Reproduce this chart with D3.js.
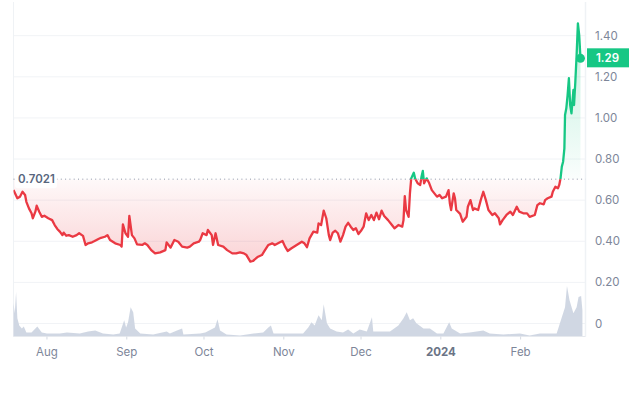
<!DOCTYPE html>
<html>
<head>
<meta charset="utf-8">
<script src="https://cdn.jsdelivr.net/npm/d3@7"></script>
<style>
  html, body { margin: 0; padding: 0; background: #fff; }
  svg { display: block; font-family: Inter, "Noto Sans", sans-serif; }
</style>
</head>
<body>
<svg id="chart" width="629" height="412"></svg>
<script>
"use strict";

// serie de precos (dias desde 19/07/2023)
var startDate = "2023-07-19";
var priceDays = [0, 1.5, 2.5, 3.5, 4.5, 5, 6, 7, 7.5, 8.5, 9, 10, 11, 12, 13.5, 15, 16, 17, 18, 19,
    19.5, 20.5, 21.5, 23, 24.5, 25.5, 27, 28, 29, 30.5, 31.5, 33, 34, 35.5, 36.5, 37.5, 39.5, 41.5, 42, 42.5,
    43.5, 44.5, 45, 46, 47, 48, 50, 51, 52, 53.5, 55, 57, 59, 59.5, 61, 62.5, 64, 65.5, 67.5, 68.5,
    70, 72, 72.5, 73.5, 75, 75.5, 77, 77.5, 78.5, 79.5, 81.5, 83, 85, 86.5, 88, 89.5, 90.5, 92, 93, 95,
    96.5, 97.5, 99, 100.5, 101.5, 103.5, 104.5, 105.5, 106.5, 108, 110, 112, 113, 114, 115, 116.5, 118, 118.5, 119.5, 120.5,
    121.5, 122.5, 123, 124, 125, 126, 127, 128, 129, 130, 131, 132, 133, 134, 135, 136, 137, 138, 139, 140,
    141, 142, 143, 144, 145.5, 147, 148, 149.5, 151, 151.5, 152, 152.5, 153.5, 154, 154.5, 155.5, 156, 157, 158, 158.5,
    159, 159.5, 160.5, 161.5, 162.5, 163.5, 164.5, 165.5, 166.5, 168, 169, 169.5, 170, 171, 171.5, 172, 173.5, 174.5, 176, 176.5,
    177.5, 178.5, 179, 180.5, 181.5, 182.5, 183.5, 184.5, 186, 187, 188.5, 189, 190, 191.5, 193, 194, 195.5, 196.5, 198, 199.5,
    200.5, 202.5, 203.5, 204.5, 206, 206.5, 207.5, 209, 209.5, 210.5, 211.5, 212, 212.5, 213, 213.5, 214, 214.25, 214.75, 215.25, 215.75,
    216.25, 216.75, 217.5, 217.75, 218.25, 218.75, 219.25, 219.75, 220.25];
var prices = [0.649, 0.609, 0.617, 0.641, 0.625, 0.592, 0.560, 0.536, 0.512, 0.544, 0.573, 0.544, 0.519, 0.524, 0.512, 0.503, 0.479, 0.460, 0.447, 0.430,
    0.442, 0.427, 0.430, 0.422, 0.430, 0.439, 0.426, 0.382, 0.390, 0.395, 0.401, 0.411, 0.417, 0.422, 0.430, 0.406, 0.390, 0.382, 0.374, 0.482,
    0.439, 0.422, 0.524, 0.430, 0.414, 0.385, 0.382, 0.390, 0.382, 0.357, 0.341, 0.346, 0.357, 0.395, 0.369, 0.406, 0.398, 0.374, 0.369, 0.374,
    0.390, 0.398, 0.406, 0.439, 0.430, 0.455, 0.430, 0.382, 0.439, 0.382, 0.374, 0.357, 0.341, 0.341, 0.346, 0.341, 0.333, 0.301, 0.304, 0.325,
    0.333, 0.353, 0.382, 0.390, 0.382, 0.395, 0.401, 0.374, 0.353, 0.366, 0.382, 0.398, 0.390, 0.371, 0.414, 0.447, 0.442, 0.487, 0.479, 0.549,
    0.512, 0.430, 0.406, 0.442, 0.451, 0.439, 0.398, 0.430, 0.471, 0.490, 0.471, 0.455, 0.463, 0.435, 0.451, 0.471, 0.536, 0.503, 0.528, 0.503,
    0.539, 0.507, 0.549, 0.523, 0.503, 0.479, 0.463, 0.479, 0.471, 0.503, 0.620, 0.552, 0.519, 0.633, 0.706, 0.733, 0.706, 0.682, 0.674, 0.714,
    0.742, 0.682, 0.706, 0.682, 0.649, 0.633, 0.617, 0.625, 0.609, 0.617, 0.649, 0.585, 0.552, 0.633, 0.609, 0.552, 0.533, 0.495, 0.519, 0.568,
    0.600, 0.552, 0.560, 0.552, 0.600, 0.641, 0.600, 0.552, 0.528, 0.536, 0.512, 0.482, 0.503, 0.528, 0.544, 0.528, 0.568, 0.544, 0.536, 0.536,
    0.519, 0.528, 0.576, 0.585, 0.580, 0.600, 0.609, 0.617, 0.641, 0.665, 0.658, 0.674, 0.706, 0.763, 0.787, 0.852, 1.014, 1.047, 1.111, 1.193,
    1.063, 1.022, 1.136, 1.063, 1.176, 1.306, 1.460, 1.403, 1.290];

// volume (milhoes, escala relativa)
var volumeDays = [0, 0.5, 1, 1.5, 2.25, 3.25, 4, 5, 7, 9.25, 11, 13, 18, 20.75, 25.75, 29, 31.75, 34.75, 38.75, 41.25,
    43, 43.75, 44.5, 45.5, 46.5, 47.25, 49.25, 54.25, 59.5, 60.75, 63.5, 65.5, 66, 72.5, 74.5, 78.25, 79.25, 80.25, 82.75, 88,
    93.25, 97, 99, 100, 101, 107.5, 112.5, 114.5, 115.75, 117, 118.5, 119.75, 120.5, 121.75, 123, 125.5, 128, 130, 132, 134.5,
    137.25, 139.25, 139.75, 142.25, 146.25, 149.5, 151.5, 152.75, 154, 155.25, 156.5, 159.25, 161.75, 164.5, 167, 169.25, 170.25, 173.5, 177.25, 182.5,
    185, 190.25, 196.75, 200.5, 204.5, 211, 213, 214.25, 215, 216, 217.5, 218.75, 219.5, 220.5, 221];
var volumes = [33, 23, 44, 18, 11, 8, 10, 4, 4, 10, 4, 3, 3, 4, 3, 5, 6, 3, 2, 3,
    16, 9, 14, 29, 24, 8, 3, 2, 5, 3, 6, 8, 2, 3, 4, 9, 17, 6, 2, 1,
    3, 4, 9, 11, 3, 3, 3, 9, 14, 11, 21, 16, 32, 13, 8, 5, 4, 7, 3, 7,
    5, 19, 5, 5, 5, 11, 18, 24, 16, 18, 13, 8, 8, 3, 3, 14, 8, 3, 4, 6,
    3, 2, 3, 1, 3, 3, 19, 29, 50, 36, 23, 29, 39, 40, 26];

var yTicks = [0, 0.2, 0.4, 0.6, 0.8, 1.0, 1.2, 1.4];
var referencia = 0.7021;
var ultimoPreco = 1.29;

var corVerde = "#16c784";
var corVermelho = "#ea3943";
var corTexto = "#58667e";

var svg = d3.select("#chart");
var plotEsq = 13.5, plotDir = 585.5, plotTopo = 2, plotBase = 336.5;

var t0 = new Date(startDate + "T00:00:00Z");
function diaParaData(d) {
    return new Date(t0.getTime() + d * 864e5);
}

var x = d3.scaleUtc()
    .domain([t0, diaParaData(222.2)])
    .range([plotEsq, plotDir]);

var y = d3.scaleLinear()
    .domain([0, 1.4])
    .range([323.5, 35.7]);

var yVol = d3.scaleLinear()
    .domain([0, 50])
    .range([plotBase, 286]);

var serie = priceDays.map(function (d, i) {
    return { data: diaParaData(d), valor: prices[i] };
});
var serieVol = volumeDays.map(function (d, i) {
    return { data: diaParaData(d), valor: volumes[i] };
});

// gradientes
var defs = svg.append("defs");
var yRef = y(referencia);

var gVerde = defs.append("linearGradient")
    .attr("id", "grad-verde")
    .attr("gradientUnits", "userSpaceOnUse")
    .attr("x1", 0).attr("x2", 0)
    .attr("y1", y(1.46)).attr("y2", yRef);
gVerde.append("stop").attr("offset", 0).attr("stop-color", corVerde).attr("stop-opacity", 0.28);
gVerde.append("stop").attr("offset", 1).attr("stop-color", corVerde).attr("stop-opacity", 0.02);

var gVermelho = defs.append("linearGradient")
    .attr("id", "grad-vermelho")
    .attr("gradientUnits", "userSpaceOnUse")
    .attr("x1", 0).attr("x2", 0)
    .attr("y1", yRef).attr("y2", y(0.3));
gVermelho.append("stop").attr("offset", 0).attr("stop-color", corVermelho).attr("stop-opacity", 0.03);
gVermelho.append("stop").attr("offset", 1).attr("stop-color", corVermelho).attr("stop-opacity", 0.22);

defs.append("clipPath").attr("id", "clip-cima")
    .append("rect")
    .attr("x", plotEsq).attr("y", 0)
    .attr("width", plotDir - plotEsq).attr("height", yRef);

defs.append("clipPath").attr("id", "clip-baixo")
    .append("rect")
    .attr("x", plotEsq).attr("y", yRef)
    .attr("width", plotDir - plotEsq).attr("height", plotBase - yRef);

// grade horizontal
svg.append("g")
    .selectAll("line")
    .data(yTicks)
    .enter().append("line")
    .attr("x1", plotEsq).attr("x2", plotDir)
    .attr("y1", function (d) { return y(d); })
    .attr("y2", function (d) { return y(d); })
    .attr("stroke", "#f1f3f6")
    .attr("stroke-width", 1);

// bordas
svg.append("line")
    .attr("x1", plotEsq).attr("x2", plotEsq)
    .attr("y1", plotTopo).attr("y2", plotBase)
    .attr("stroke", "#eff2f5");
svg.append("line")
    .attr("x1", plotDir).attr("x2", plotDir)
    .attr("y1", plotTopo).attr("y2", plotBase)
    .attr("stroke", "#eff2f5").attr("stroke-width", 1.5);

// volume
var areaVol = d3.area()
    .x(function (d) { return x(d.data); })
    .y0(plotBase)
    .y1(function (d) { return yVol(d.valor); });

svg.append("path")
    .datum(serieVol)
    .attr("d", areaVol)
    .attr("fill", "#cdd5e2")
    .attr("opacity", 0.95);

// eixo inferior
svg.append("line")
    .attr("x1", plotEsq).attr("x2", plotDir)
    .attr("y1", plotBase).attr("y2", plotBase)
    .attr("stroke", "#e6e9ee");

var meses = x.ticks(d3.utcMonth.every(1));
var gx = svg.append("g");
gx.selectAll("line")
    .data(meses)
    .enter().append("line")
    .attr("x1", function (d) { return x(d); })
    .attr("x2", function (d) { return x(d); })
    .attr("y1", plotBase).attr("y2", plotBase + 3)
    .attr("stroke", "#d5dae2");
gx.selectAll("text")
    .data(meses)
    .enter().append("text")
    .attr("x", function (d) { return x(d); })
    .attr("y", 356)
    .attr("text-anchor", "middle")
    .attr("font-size", 11.5)
    .attr("font-weight", function (d) { return d.getUTCMonth() === 0 ? 700 : 400; })
    .attr("fill", function (d) { return d.getUTCMonth() === 0 ? "#6b7486" : "#7d8699"; })
    .text(function (d) {
        return d.getUTCMonth() === 0 ? d3.utcFormat("%Y")(d) : d3.utcFormat("%b")(d);
    });

// eixo y (direita)
svg.append("g")
    .selectAll("text")
    .data(yTicks)
    .enter().append("text")
    .attr("x", 595)
    .attr("y", function (d) { return y(d) + 4; })
    .attr("font-size", 11.5)
    .attr("fill", "#7d8699")
    .text(function (d) { return d === 0 ? "0" : d3.format(".2f")(d); });

// area de preco
var area = d3.area()
    .x(function (d) { return x(d.data); })
    .y0(yRef)
    .y1(function (d) { return y(d.valor); });

svg.append("path")
    .datum(serie)
    .attr("d", area)
    .attr("fill", "url(#grad-verde)")
    .attr("clip-path", "url(#clip-cima)");

svg.append("path")
    .datum(serie)
    .attr("d", area)
    .attr("fill", "url(#grad-vermelho)")
    .attr("clip-path", "url(#clip-baixo)");

// linha de referencia
svg.append("line")
    .attr("x1", plotEsq).attr("x2", plotDir)
    .attr("y1", yRef).attr("y2", yRef)
    .attr("stroke", "#8d96a8")
    .attr("stroke-width", 1)
    .attr("stroke-dasharray", "1,3.3");

// linha de preco
var linha = d3.line()
    .x(function (d) { return x(d.data); })
    .y(function (d) { return y(d.valor); });

svg.append("path")
    .datum(serie)
    .attr("d", linha)
    .attr("fill", "none")
    .attr("stroke", corVerde)
    .attr("stroke-width", 2.3)
    .attr("stroke-linejoin", "round")
    .attr("clip-path", "url(#clip-cima)");

svg.append("path")
    .datum(serie)
    .attr("d", linha)
    .attr("fill", "none")
    .attr("stroke", corVermelho)
    .attr("stroke-width", 2.3)
    .attr("stroke-linejoin", "round")
    .attr("clip-path", "url(#clip-baixo)");

// rotulo de referencia
svg.append("rect")
    .attr("x", 15).attr("y", yRef - 9)
    .attr("width", 42).attr("height", 18)
    .attr("rx", 3)
    .attr("fill", "#fff")
    .attr("opacity", 0.9);
svg.append("text")
    .attr("x", 18).attr("y", yRef + 4)
    .attr("font-size", 11.5)
    .attr("font-weight", 600)
    .attr("fill", corTexto)
    .text(d3.format(".4f")(referencia));

// ultimo ponto e etiqueta
var ultimo = serie[serie.length - 1];
svg.append("circle")
    .attr("cx", x(ultimo.data))
    .attr("cy", y(ultimo.valor))
    .attr("r", 4.5)
    .attr("fill", corVerde);

svg.append("rect")
    .attr("x", 587).attr("y", y(ultimoPreco) - 10)
    .attr("width", 45).attr("height", 19)
    .attr("fill", corVerde);
svg.append("text")
    .attr("x", 596).attr("y", y(ultimoPreco) + 4)
    .attr("font-size", 11.5)
    .attr("font-weight", 600)
    .attr("fill", "#fff")
    .text(d3.format(".2f")(ultimoPreco));
</script>
</body>
</html>
